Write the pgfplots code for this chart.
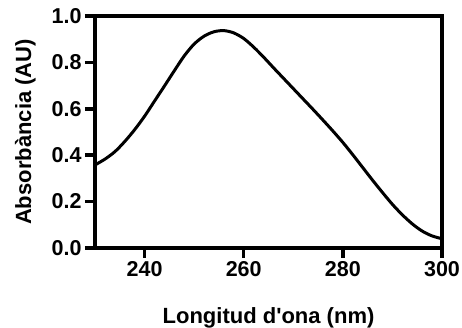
\documentclass[border=0pt]{standalone}
\usepackage{pgfplots}
\pgfplotsset{compat=1.18}
\usepackage{fontspec}
\setmainfont{Liberation Sans}[Ligatures=TeXOff]
\begin{document}
\begin{tikzpicture}[x=1pt,y=1pt]
\path[use as bounding box] (-95,-80) rectangle (367,248);
\begin{axis}[
  scale only axis, width=347pt, height=232pt,
  at={(0,0)}, anchor=south west,
  xmin=230, xmax=300, ymin=0, ymax=1.0,
  xtick={240,260,280,300}, ytick={0,0.2,0.4,0.6,0.8,1.0},
  tick pos=left, tick align=outside, major tick length=10pt,
  every tick/.style={black, line width=3.5pt},
  axis line style={line width=3.5pt, line cap=rect},
  /pgf/number format/assume math mode=true,
  xticklabel style={/pgf/number format/fixed},
  yticklabel style={/pgf/number format/fixed, /pgf/number format/fixed zerofill, /pgf/number format/precision=1},
  tick label style={font=\bfseries\fontsize{21.5}{24}\selectfont},
  xlabel={Longitud d'ona (nm)},
  ylabel={Absorbància (AU)},
  every axis x label/.style={at={(axis description cs:0.5,-0.3254)}, anchor=base, font=\bfseries\fontsize{22}{24}\selectfont},
  every axis y label/.style={at={(axis description cs:-0.1844,0.5)}, rotate=90, anchor=base, font=\bfseries\fontsize{22}{24}\selectfont},
]
\addplot[black, line width=3pt, smooth] coordinates {
(230,0.358)(232,0.383)(234,0.415)(236,0.459)(238,0.510)(240,0.568)(242,0.633)(244,0.698)(246,0.764)(248,0.828)(250,0.879)(252,0.913)(254,0.932)(256,0.937)(258,0.927)(260,0.903)(262,0.866)(264,0.823)(266,0.777)(268,0.732)(270,0.687)(272,0.642)(274,0.597)(276,0.551)(278,0.504)(280,0.455)(282,0.402)(284,0.347)(286,0.292)(288,0.239)(290,0.188)(292,0.143)(294,0.104)(296,0.073)(298,0.052)(300,0.040)
};
\end{axis}
\end{tikzpicture}
\end{document}
